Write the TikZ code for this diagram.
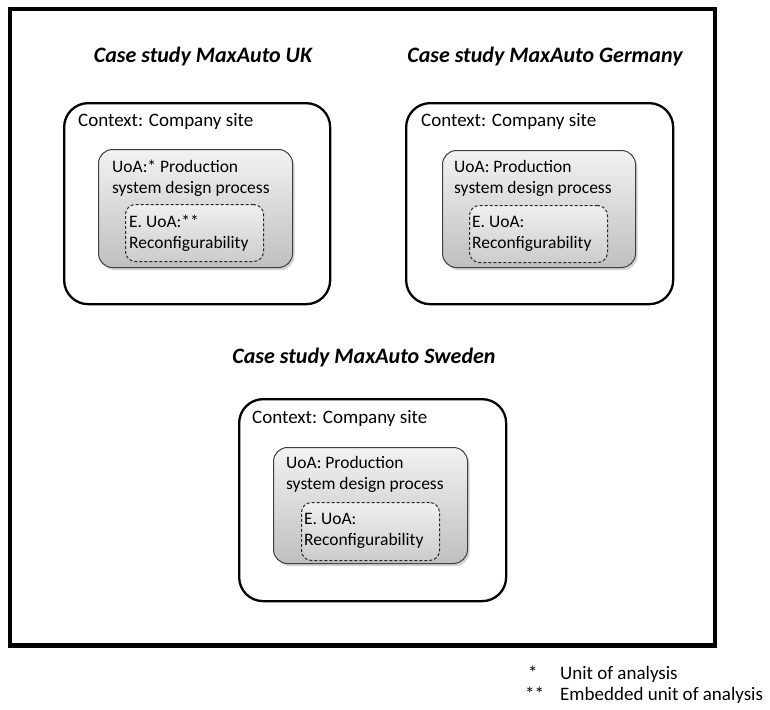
\documentclass[tikz,border=0pt]{standalone}
\usepackage{fontspec}
\setmainfont{Carlito}
\usetikzlibrary{shadows}
\tikzset{
  ctx/.style={draw, line width=2.3pt, rounded corners=24pt, rectangle, inner sep=0pt, anchor=north west},
  uoa/.style={draw=black!75, line width=1pt, rounded corners=14pt, rectangle, inner sep=0pt, anchor=north west,
    top color=gray!10, bottom color=gray!50,
    drop shadow={shadow xshift=2pt, shadow yshift=-2.5pt, opacity=0.35}},
  emb/.style={draw=black!85, dashed, dash pattern=on 3pt off 2pt, line width=1pt, rounded corners=10pt, rectangle, inner sep=0pt, anchor=north west,
    top color=gray!12, bottom color=gray!40},
  lbl/.style={font=\fontsize{19}{20.5}\selectfont, align=left, inner sep=0pt, anchor=base west},
  ilbl/.style={lbl, font=\fontsize{17.5}{20.5}\selectfont},
  ttl/.style={font=\fontsize{22}{26}\selectfont\bfseries\itshape, inner sep=0pt, anchor=base},
}
\begin{document}
\begin{tikzpicture}[x=1pt,y=-1pt]
\useasboundingbox (0,0) rectangle (770,709);
\node[draw, line width=4.5pt, inner sep=0pt, anchor=north west, minimum width=705pt, minimum height=636pt] (frame) at (7.5,7) {};

% UK  (multi-line labels: base anchor = baseline of last line)
\node[ttl] (tUK) at (203,63) {Case study MaxAuto UK};
\node[ctx, minimum width=266pt, minimum height=201pt] (cUK) at (63,102) {};
\node[lbl] (lcUK) at (78,126) {Context: Company site};
\node[uoa, minimum width=194pt, minimum height=118pt] (uUK) at (98,149) {};
\node[ilbl] (luUK) at (112,193) {UoA:* Production\\system design process};
\node[emb, minimum width=138pt, minimum height=57pt] (eUK) at (125,204) {};
\node[ilbl] (leUK) at (129,248) {E. UoA:**\\Reconfigurability};

% Germany
\node[ttl] (tDE) at (545,63) {Case study MaxAuto Germany};
\node[ctx, minimum width=267pt, minimum height=201pt] (cDE) at (405,102) {};
\node[lbl] (lcDE) at (421,126) {Context: Company site};
\node[uoa, minimum width=193pt, minimum height=117pt] (uDE) at (442,150) {};
\node[ilbl] (luDE) at (454,193) {UoA: Production\\system design process};
\node[emb, minimum width=138pt, minimum height=57pt] (eDE) at (469,205) {};
\node[ilbl] (leDE) at (472,248) {E. UoA:\\Reconfigurability};

% Sweden
\node[ttl] (tSE) at (364,363) {Case study MaxAuto Sweden};
\node[ctx, minimum width=267pt, minimum height=202pt] (cSE) at (238,398) {};
\node[lbl] (lcSE) at (252,423) {Context: Company site};
\node[uoa, minimum width=194pt, minimum height=116pt] (uSE) at (273,447) {};
\node[ilbl] (luSE) at (286,489) {UoA: Production\\system design process};
\node[emb, minimum width=138pt, minimum height=58pt] (eSE) at (301,502) {};
\node[ilbl] (leSE) at (304,545) {E. UoA:\\Reconfigurability};

% legend
\node[lbl] (s1) at (528,679) {*};
\node[lbl] (l1) at (560,679) {Unit of analysis};
\node[lbl] (s2) at (525,700) {**};
\node[lbl] (l2) at (560,700) {Embedded unit of analysis};
\end{tikzpicture}
\end{document}
